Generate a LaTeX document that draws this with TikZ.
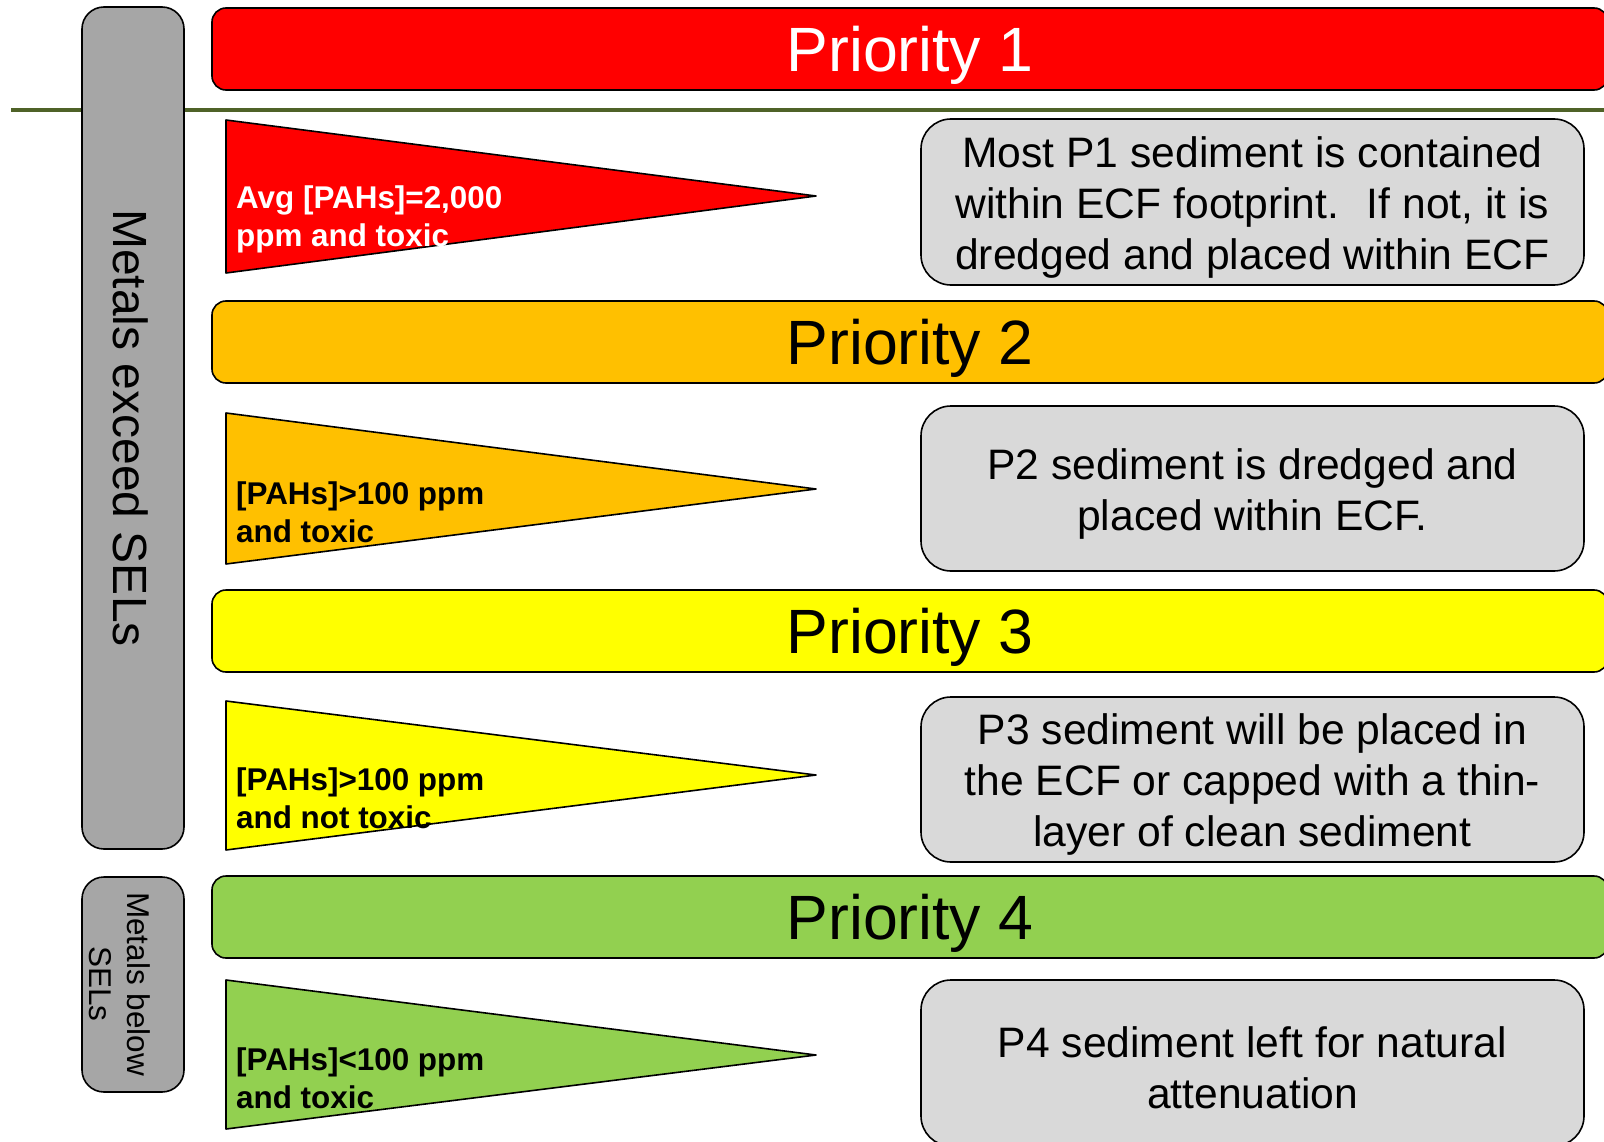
\documentclass[tikz,border=0pt]{standalone}
\usepackage{fontspec}
\setmainfont{Liberation Sans}
\definecolor{pone}{HTML}{FF0000}
\definecolor{ptwo}{HTML}{FFC000}
\definecolor{pthree}{HTML}{FFFF00}
\definecolor{pfour}{HTML}{92D050}
\definecolor{sidegray}{HTML}{A6A6A6}
\definecolor{descgray}{HTML}{D9D9D9}
\definecolor{olive}{HTML}{4F6228}
\tikzset{
  prio/.style={draw=black, line width=1.6pt, rounded corners=14pt,
    minimum width=1396pt, minimum height=82pt, inner sep=0pt},
  priotext/.style={inner sep=0pt, font=\fontsize{62.6}{75}\selectfont},
  sidebox/.style={draw=black, fill=sidegray, rounded corners=22pt, line width=1.6pt,
    minimum width=102pt, inner sep=0pt},
  descr/.style={draw=black, fill=descgray, rounded corners=30pt, line width=1.6pt,
    minimum width=663pt, inner sep=0pt},
  desctext/.style={align=center, inner sep=0pt,
    font=\fontsize{42.6}{51}\selectfont},
  tri/.style={draw=black, line width=1.6pt, line join=round},
  tritext/.style={anchor=west, align=left, inner sep=0pt,
    font=\bfseries\fontsize{31.4}{38}\selectfont},
}
\begin{document}
\begin{tikzpicture}[x=1pt, y=-1pt]
\useasboundingbox (0,0) rectangle (1604,1142);
\clip (0,0) rectangle (1604,1142);
\fill[white] (0,0) rectangle (1604,1142);

% green rule
\draw[olive, line width=4pt] (11,110.5) -- (1604,110.5);

% left side boxes
\node[sidebox, minimum height=842pt] (metalsA) at (133,428) {};
\node[rotate=-90, inner sep=0pt, font=\fontsize{48}{58}\selectfont] (metalsAtxt) at (131,428) {Metals exceed SELs};
\node[sidebox, minimum height=215pt] (metalsB) at (133,984.5) {};
\node[rotate=-90, inner sep=0pt, align=center, font=\fontsize{31.5}{38}\selectfont] (metalsBtxt) at (120,984) {Metals below\\SELs};

% priority bars
\node[prio, fill=pone] (prio1) at (910,49) {};
\node[priotext, text=white] (prio1t) at ([yshift=-6pt]prio1.center) {Priority 1};
\node[prio, fill=ptwo] (prio2) at (910,342) {};
\node[priotext] (prio2t) at ([yshift=-6pt]prio2.center) {Priority 2};
\node[prio, fill=pthree] (prio3) at (910,631) {};
\node[priotext] (prio3t) at ([yshift=-6pt]prio3.center) {Priority 3};
\node[prio, fill=pfour] (prio4) at (910,917) {};
\node[priotext] (prio4t) at ([yshift=-6pt]prio4.center) {Priority 4};

% triangles
\draw[tri, fill=pone] (226,120) -- (816,196) -- (226,273) -- cycle;
\draw[tri, fill=ptwo] (226,413) -- (816,489) -- (226,564) -- cycle;
\draw[tri, fill=pthree] (226,701) -- (816,775) -- (226,850) -- cycle;
\draw[tri, fill=pfour] (226,980) -- (816,1055) -- (226,1129) -- cycle;

\node[tritext, text=white] (t1) at (236,219) {Avg [PAHs]=2,000\\ppm and toxic};
\node[tritext] (t2) at (236,512) {[PAHs]>100 ppm\\and toxic};
\node[tritext] (t3) at (236,798) {[PAHs]>100 ppm\\and not toxic};
\node[tritext] (t4) at (236,1078) {[PAHs]<100 ppm\\and toxic};

% description boxes
\node[descr, minimum height=166pt] (d1) at (1252.5,202) {};
\node[desctext] (d1t) at ([yshift=-5pt]d1.center) {Most P1 sediment is contained\\within ECF footprint.~ If not, it is\\dredged and placed within ECF};
\node[descr, minimum height=165pt] (d2) at (1252.5,488.5) {};
\node[desctext] (d2t) at ([yshift=-5pt]d2.center) {P2 sediment is dredged and\\placed within ECF.};
\node[descr, minimum height=165pt] (d3) at (1252.5,779.5) {};
\node[desctext] (d3t) at ([yshift=-5pt]d3.center) {P3 sediment will be placed in\\the ECF or capped with a thin-\\layer of clean sediment};
\node[descr, minimum height=166pt] (d4) at (1252.5,1063) {};
\node[desctext] (d4t) at ([yshift=-5pt]d4.center) {P4 sediment left for natural\\attenuation};
\end{tikzpicture}
\end{document}
